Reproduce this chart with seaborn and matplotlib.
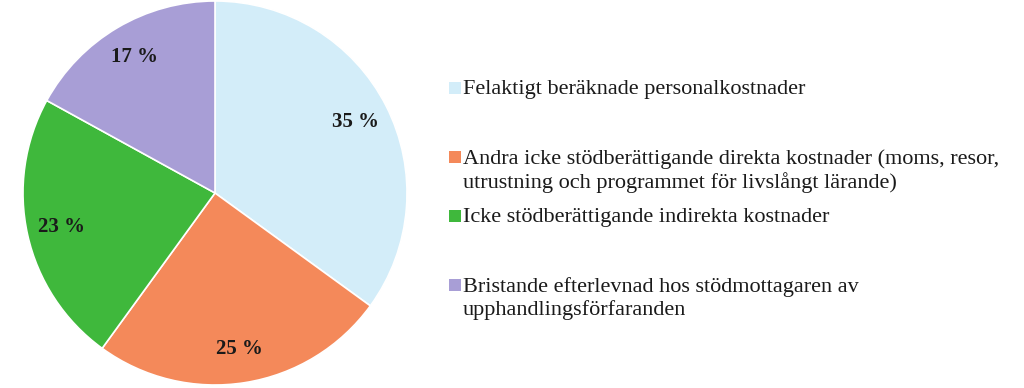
import matplotlib
matplotlib.use("Agg")
import matplotlib.pyplot as plt
import matplotlib.patches as mpatches
import numpy as np
import seaborn as sns

sns.set_style("white")
plt.rcParams['font.family'] = ['Liberation Serif', 'DejaVu Serif']

# data
shares = [35, 25, 23, 17]
pct_labels = ['35 %', '25 %', '23 %', '17 %']
categories = [
    'Felaktigt beräknade personalkostnader',
    'Andra icke stödberättigande direkta kostnader (moms, resor,\nutrustning och programmet för livslångt lärande)',
    'Icke stödberättigande indirekta kostnader',
    'Bristande efterlevnad hos stödmottagaren av\nupphandlingsförfaranden',
]
colors = ['#d3edf9', '#f4895a', '#3fb83c', '#a89ed6']

fig = plt.figure(figsize=(10.24, 3.88), dpi=100)

# pie axes, centred at about (215, 193) px with radius 192 px
ax = fig.add_axes([(215 - 192) / 1024, (195 - 192) / 388, 384 / 1024, 384 / 388])
wedges, texts = ax.pie(shares, colors=colors, startangle=90, counterclock=False,
                       wedgeprops=dict(edgecolor='white', linewidth=1.2))
ax.set_xlim(-1, 1)
ax.set_ylim(-1, 1)
ax.set_aspect('equal')
ax.axis('off')

# percentage labels inside wedges
for w, lab in zip(wedges, pct_labels):
    ang = np.deg2rad((w.theta1 + w.theta2) / 2)
    ax.text(0.82 * np.cos(ang), 0.82 * np.sin(ang), lab, ha='center', va='center',
            fontsize=15, fontweight='bold', color='#1a1a1a')

# legend drawn by hand to follow the original spacing
legend_y = [88, 157, 216, 285]  # px from top, first line of each entry
for y, col, lab in zip(legend_y, colors, categories):
    fy = 1 - y / 388
    fig.patches.append(mpatches.Rectangle((449 / 1024, fy - 6 / 388), 12 / 1024, 12 / 388,
                                          transform=fig.transFigure, facecolor=col,
                                          edgecolor='none'))
    fig.text(463 / 1024, fy + 8 / 388, lab, ha='left', va='top', fontsize=16,
             color='#1a1a1a', linespacing=1.2)

fig.savefig('out.png', dpi=100)
